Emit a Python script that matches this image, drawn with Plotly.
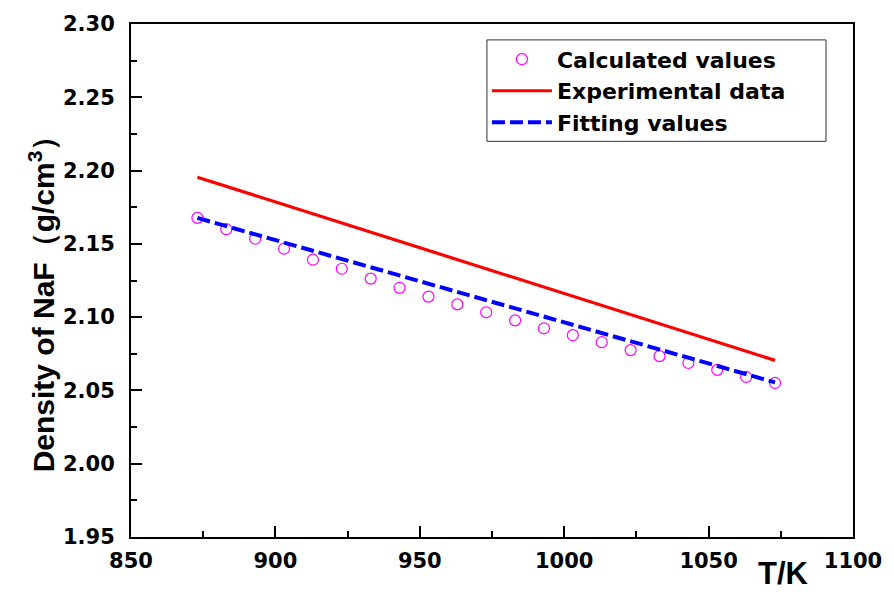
import plotly.graph_objects as go

temps = [873, 883, 893, 903, 913, 923, 933, 943, 953, 963, 973,
         983, 993, 1003, 1013, 1023, 1033, 1043, 1053, 1063, 1073]
calculated = [2.1677, 2.1600, 2.1535, 2.1467, 2.1392, 2.1330, 2.1263, 2.1200,
              2.1140, 2.1087, 2.1033, 2.0978, 2.0924, 2.0877, 2.0829, 2.0775,
              2.0734, 2.0687, 2.0640, 2.0592, 2.0551]
exp_T = [873, 1073]
experimental = [2.1955, 2.0705]
fit_T = [873, 1073]
fitting = [2.1677, 2.0555]

LIB = "Liberation Sans, Arial, sans-serif"
DJV = "DejaVu Sans, sans-serif"

fig = go.Figure()
fig.add_trace(go.Scatter(
    x=temps, y=calculated, mode="markers", name="Calculated values",
    marker=dict(symbol="circle-open", size=11, color="#FF00FF", line=dict(width=1.2, color="#FF00FF")),
))
fig.add_trace(go.Scatter(
    x=exp_T, y=experimental, mode="lines", name="Experimental data",
    line=dict(color="#FF0000", width=3.2),
))
fig.add_trace(go.Scatter(
    x=fit_T, y=fitting, mode="lines", name="Fitting values",
    line=dict(color="#0000FF", width=4, dash="13px,5px"),
))

axis_common = dict(
    showline=True, linecolor="black", linewidth=2, mirror=True,
    showgrid=False, zeroline=False,
    ticks="inside", ticklen=11, tickwidth=2, tickcolor="black",
    tickfont=dict(family=DJV, size=21, color="black", weight="bold"),
)

fig.update_xaxes(
    range=[850, 1100], dtick=50, tick0=850,
    minor=dict(ticks="inside", ticklen=6, tickwidth=2, tickcolor="black", dtick=25),
    ticklabelstandoff=4,
    **axis_common,
)
fig.update_yaxes(
    range=[1.95, 2.30], dtick=0.05, tick0=1.95, tickformat=".2f",
    minor=dict(ticks="inside", ticklen=6, tickwidth=2, tickcolor="black", dtick=0.025),
    ticklabelstandoff=10,
    **axis_common,
)

fig.add_annotation(
    text="Density of NaF（g/cm<sup>3</sup>）", textangle=-90,
    xref="paper", yref="paper", x=-0.124, y=0.47,
    xanchor="center", yanchor="middle", showarrow=False,
    font=dict(family=LIB, size=30, color="black", weight="bold"),
)
fig.add_annotation(
    text="T/K", xref="paper", yref="paper", x=0.904, y=-0.0707,
    xanchor="center", yanchor="middle", showarrow=False,
    font=dict(family=LIB, size=31, color="black", weight="bold"),
)

# legend frame
fig.add_shape(
    type="rect", xref="paper", yref="paper",
    x0=0.493, x1=0.9626, y0=0.7713, y1=0.969,
    line=dict(color="#333333", width=1), fillcolor="rgba(0,0,0,0)", layer="above",
)

fig.update_layout(
    width=894, height=592,
    margin=dict(l=131, r=41, t=21, b=55),
    paper_bgcolor="white", plot_bgcolor="white",
    showlegend=True,
    legend=dict(
        x=0.493, y=0.972, xanchor="left", yanchor="top",
        borderwidth=0, bgcolor="rgba(0,0,0,0)",
        font=dict(family=DJV, size=22, color="black", weight="bold"),
        itemwidth=60, tracegroupgap=0,
    ),
)

fig.write_html("out.html")
